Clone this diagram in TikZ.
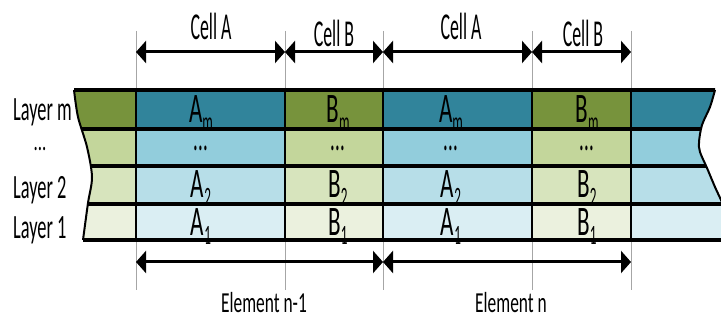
\documentclass[tikz,border=0pt]{standalone}
\usepackage{fontspec}
\usepackage{xcolor}
\usetikzlibrary{arrows.meta}
\newfontfamily\narrowfont[FakeStretch=0.6]{Carlito}
\newfontfamily\layerfont[FakeStretch=0.54]{Carlito}
\newfontfamily\letterfont[FakeStretch=0.55]{Carlito}
\newfontfamily\cellfont[FakeStretch=0.47]{Carlito}
\definecolor{blueM}{HTML}{31849B}
\definecolor{blueD}{HTML}{92CDDC}
\definecolor{blueT}{HTML}{B7DEE8}
\definecolor{blueO}{HTML}{DAEEF3}
\definecolor{greenM}{HTML}{77933C}
\definecolor{greenD}{HTML}{C3D69B}
\definecolor{greenT}{HTML}{D7E4BD}
\definecolor{greenO}{HTML}{EBF1DE}
\newcommand{\lowsub}[1]{\raisebox{-9pt}{\cellfont\fontsize{28}{28}\selectfont #1}}
\tikzstyle{arrow}    = [{Triangle[length=10pt,width=22pt]}-{Triangle[length=10pt,width=22pt]}, line width=3pt]
\tikzstyle{tick}     = [gray!70, line width=0.8pt]
\tikzstyle{rowline}  = [line width=3.2pt]
\tikzstyle{colline}  = [line width=1.3pt]
\tikzstyle{edge}     = [line width=2pt]
\tikzstyle{celltext} = [anchor=base, inner sep=0pt, font=\letterfont\fontsize{42}{42}\selectfont]
\tikzstyle{dots}     = [anchor=base, inner sep=0pt, font=\cellfont\fontsize{40}{40}\selectfont]
\tikzstyle{layer}    = [anchor=base west, inner sep=0pt, font=\layerfont\fontsize{34}{34}\selectfont]
\tikzstyle{celllbl}  = [anchor=base, inner sep=0pt, font=\cellfont\fontsize{38}{38}\selectfont]
\tikzstyle{elemlbl}  = [anchor=base, inner sep=0pt, font=\narrowfont\fontsize{29}{29}\selectfont]

\begin{document}
\begin{tikzpicture}[x=1pt, y=-1pt]
    \useasboundingbox (0,0) rectangle (721,320);
    \clip (0,0) rectangle (721,320);

    \foreach \x in {136,285,383,532,631} {
        \draw[tick] (\x,31) -- (\x,90);
        \draw[tick] (\x,240) -- (\x,290);
    }

    \begin{scope}
        \clip (74,80) -- plot[smooth] coordinates {(74,90) (78,117) (87,147) (92,177) (88,203) (83,240)} -- (83,250) -- (760,250) -- (760,80) -- cycle;
        \clip (715,80) -- plot[smooth] coordinates {(715,90) (710,107) (702,125) (699,142) (700,152) (707,168) (715,187) (721,200) (739,240)} -- (739,250) -- (0,250) -- (0,80) -- cycle;
        \foreach \top/\bot/\ca/\cb in {90/129/blueM/greenM, 129/166/blueD/greenD, 166/204/blueT/greenT, 204/240/blueO/greenO} {
            \fill[\cb] (0,\top) rectangle (136,\bot);
            \fill[\ca] (136,\top) rectangle (285,\bot);
            \fill[\cb] (285,\top) rectangle (383,\bot);
            \fill[\ca] (383,\top) rectangle (532,\bot);
            \fill[\cb] (532,\top) rectangle (631,\bot);
            \fill[\ca] (631,\top) rectangle (760,\bot);
        }
        \foreach \x in {136,285,383,532,631}
            \draw[colline] (\x,90) -- (\x,240);
        \foreach \y in {90,129,166,204,240}
            \draw[rowline] (0,\y) -- (760,\y);
    \end{scope}
    \draw[edge] plot[smooth] coordinates {(74,90) (78,117) (87,147) (92,177) (88,203) (83,240)};
    \draw[edge] plot[smooth] coordinates {(715,90) (710,107) (702,125) (699,142) (700,152) (707,168) (715,187) (721,200) (739,240)};

    \foreach \col/\cx/\ch in {a1/201/A, b1/338/B, a2/451/A, b2/587/B} {
        \node[celltext] (\col-m) at (\cx,123) {\ch\lowsub{m}};
        \node[dots] (\col-d) at (\cx,151) {...};
        \node[celltext] (\col-2) at (\cx,198) {\ch\lowsub{2}};
        \node[celltext] (\col-1) at (\cx,236) {\ch\lowsub{1}};
    }

    \node[layer] (lm) at (13,121) {Layer m};
    \node[dots, font=\narrowfont\fontsize{28}{28}\selectfont] (ld) at (40,151) {...};
    \node[layer] (l2) at (13,199) {Layer 2};
    \node[layer] (l1) at (13,239) {Layer 1};

    \foreach \i/\x in {0/136,1/285,2/383,3/532,4/631} {
        \coordinate (ta\i) at (\x,52);
        \coordinate (tb\i) at (\x,262);
    }
    \draw[arrow] (ta0) -- (ta1);
    \draw[arrow] (ta1) -- (ta2);
    \draw[arrow] (ta2) -- (ta3);
    \draw[arrow] (ta3) -- (ta4);
    \draw[arrow] (tb0) -- (tb2);
    \draw[arrow] (tb2) -- (tb4);

    \node[celllbl] (cella1) at (211,40) {Cell A};
    \node[celllbl] (cellb1) at (334,47) {Cell B};
    \node[celllbl] (cella2) at (461,40) {Cell A};
    \node[celllbl] (cellb2) at (583,47) {Cell B};
    \node[elemlbl] (elem1) at (264,313) {Element n-1};
    \node[elemlbl] (elem2) at (511,313) {Element n};
\end{tikzpicture}
\end{document}
